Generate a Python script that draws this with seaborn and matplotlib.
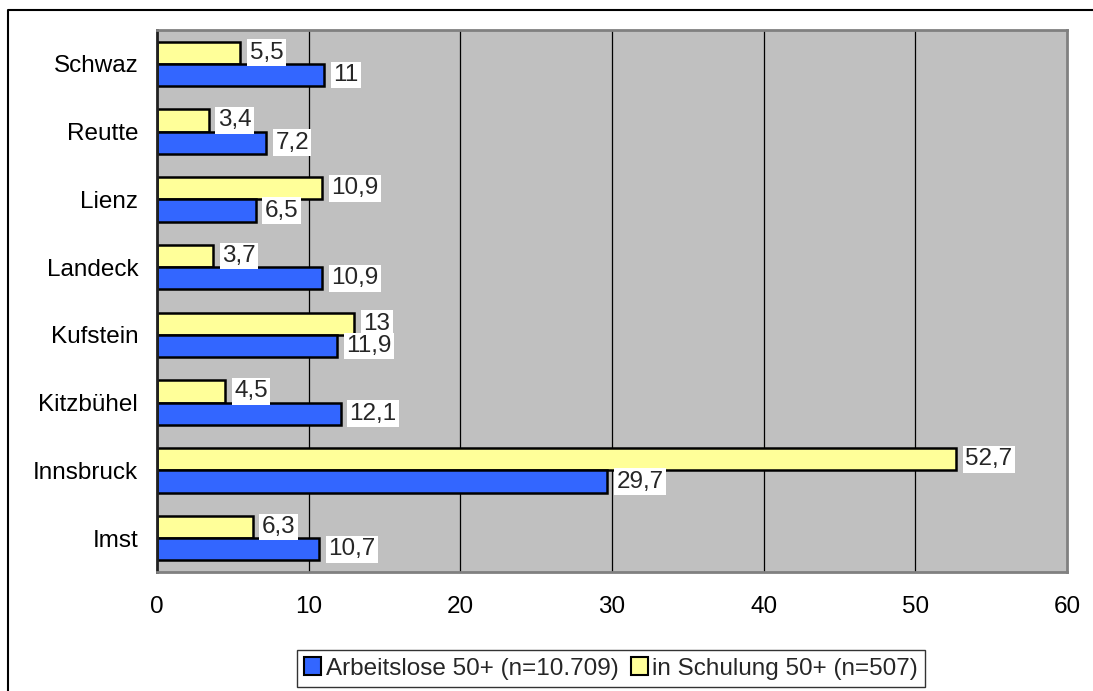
import matplotlib
matplotlib.use("Agg")
import matplotlib.pyplot as plt
import seaborn as sns
import pandas as pd
from matplotlib.lines import Line2D
from matplotlib.patches import Patch

regions = ["Schwaz", "Reutte", "Lienz", "Landeck", "Kufstein", "Kitzbühel", "Innsbruck", "Imst"]
arbeitslose = [11, 7.2, 6.5, 10.9, 11.9, 12.1, 29.7, 10.7]
schulung = [5.5, 3.4, 10.9, 3.7, 13, 4.5, 52.7, 6.3]
series_names = ["Arbeitslose 50+ (n=10.709)", "in Schulung 50+ (n=507)"]
xticks = [0, 10, 20, 30, 40, 50, 60]

col_blue = "#3366FF"
col_yellow = "#FFFF99"

df = pd.DataFrame({
    "Region": regions * 2,
    "Wert": arbeitslose + schulung,
    "Serie": [series_names[0]] * len(regions) + [series_names[1]] * len(regions),
})

sns.set_theme(style="white")
plt.rcParams["font.family"] = ["Liberation Sans", "DejaVu Sans"]
FS = 17.5

fig = plt.figure(figsize=(10.93, 6.91), dpi=100)
ax = fig.add_axes([157/1093, 1-572/691, (1067-157)/1093, (572-30)/691])
ax.set_facecolor("#C0C0C0")

sns.barplot(data=df, y="Region", x="Wert", hue="Serie", order=regions,
            hue_order=[series_names[1], series_names[0]],
            palette={series_names[0]: col_blue, series_names[1]: col_yellow},
            orient="h", width=0.66, gap=0, edgecolor="black", linewidth=1.8,
            saturation=1, legend=False, ax=ax, zorder=3)

ax.set_xlim(0, 60)
ax.set_ylim(len(regions) - 0.5, -0.5)
ax.set_xticks(xticks)
ax.set_xticklabels([str(t) for t in xticks], fontsize=FS)
ax.set_yticks(range(len(regions)))
ax.set_yticklabels(regions, fontsize=FS)
ax.set_yticks([i - 0.5 for i in range(len(regions) + 1)], minor=True)
ax.tick_params(axis="y", which="major", length=0, pad=13.5)
ax.tick_params(axis="y", which="minor", length=7, width=1.2, color="#404040", direction="out")
ax.tick_params(axis="x", which="major", length=6, width=1.2, color="#404040", direction="out", pad=11)
ax.tick_params(axis="both", labelcolor="black")
ax.set_xlabel("")
ax.set_ylabel("")

for g in xticks[1:-1]:
    ax.axvline(g, color="black", linewidth=0.9, zorder=1)

for s in ["top", "right", "bottom"]:
    ax.spines[s].set_color("#808080")
    ax.spines[s].set_linewidth(2)
ax.spines["left"].set_color("#202020")
ax.spines["left"].set_linewidth(2)
for s in ax.spines.values():
    s.set_visible(True)
    s.set_zorder(4)

def fmt(v):
    if float(v).is_integer():
        return str(int(v))
    return str(v).replace(".", ",")

bar_h = 0.33
for i, (a, s) in enumerate(zip(arbeitslose, schulung)):
    for val, yoff in [(s, -bar_h/2), (a, bar_h/2)]:
        ax.text(val + 0.6, i + yoff, fmt(val), fontsize=FS, va="center", ha="left",
                zorder=5, bbox=dict(boxstyle="square,pad=0.1", facecolor="white", edgecolor="none"))

handles = [Patch(facecolor=col_blue, edgecolor="black", linewidth=1.5),
           Patch(facecolor=col_yellow, edgecolor="black", linewidth=1.5)]
leg = fig.legend(handles, series_names, loc="center", bbox_to_anchor=(611/1093, 1-668.5/691),
                 ncol=2, fontsize=FS, frameon=True, fancybox=False, handlelength=0.7,
                 handleheight=0.7, handletextpad=0.2, columnspacing=0.5, borderpad=0.3,
                 borderaxespad=0)
leg.get_frame().set_edgecolor("black")
leg.get_frame().set_linewidth(1.0)

fig.add_artist(Line2D([8/1093, 8/1093, 1.0], [0.0, 1-10/691, 1-10/691],
                      transform=fig.transFigure, color="black", linewidth=1.5))

fig.savefig("out.png", dpi=100)
